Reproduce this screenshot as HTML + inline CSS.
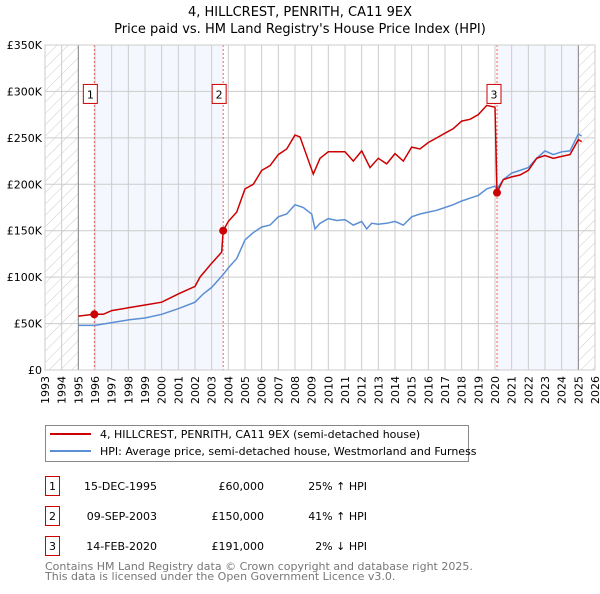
<!DOCTYPE html>
<html><head><meta charset="utf-8">
<style>
body{margin:0;background:#fff;font-family:"DejaVu Sans","Liberation Sans",sans-serif;}
svg text{font-family:"DejaVu Sans","Liberation Sans",sans-serif;}
</style></head>
<body>
<svg id="chart" width="600" height="590" xmlns="http://www.w3.org/2000/svg">
<defs>
<pattern id="hatch" patternUnits="userSpaceOnUse" width="8" height="8" patternTransform="rotate(45)">
<line x1="0" y1="0" x2="0" y2="8" stroke="#ccc" stroke-width="1"/>
</pattern>
</defs>
<text x="300" y="16" text-anchor="middle" font-size="13">4, HILLCREST, PENRITH, CA11 9EX</text>
<text x="300" y="33" text-anchor="middle" font-size="13">Price paid vs. HM Land Registry's House Price Index (HPI)</text>
<g id="plot"></g>
<g>
<rect x="45.5" y="425.5" width="423" height="36" fill="#fff" stroke="#888"/>
<line x1="50" y1="434" x2="91" y2="434" stroke="#cc0000" stroke-width="2"/>
<text x="100" y="438" font-size="11">4, HILLCREST, PENRITH, CA11 9EX (semi-detached house)</text>
<line x1="50" y1="451" x2="91" y2="451" stroke="#5b8fd4" stroke-width="2"/>
<text x="100" y="455" font-size="11">HPI: Average price, semi-detached house, Westmorland and Furness</text>
</g>
<g font-size="11">
<rect x="45.5" y="476.5" width="14" height="19" fill="#fff" stroke="#cc0000"/><text x="52.5" y="490" text-anchor="middle">1</text>
<text x="157" y="490" text-anchor="end">15-DEC-1995</text><text x="264" y="490" text-anchor="end">£60,000</text><text x="367" y="490" text-anchor="end">25% ↑ HPI</text>
<rect x="45.5" y="506.5" width="14" height="19" fill="#fff" stroke="#cc0000"/><text x="52.5" y="520" text-anchor="middle">2</text>
<text x="157" y="520" text-anchor="end">09-SEP-2003</text><text x="264" y="520" text-anchor="end">£150,000</text><text x="367" y="520" text-anchor="end">41% ↑ HPI</text>
<rect x="45.5" y="536.5" width="14" height="19" fill="#fff" stroke="#cc0000"/><text x="52.5" y="550" text-anchor="middle">3</text>
<text x="157" y="550" text-anchor="end">14-FEB-2020</text><text x="264" y="550" text-anchor="end">£191,000</text><text x="367" y="550" text-anchor="end">2% ↓ HPI</text>
</g>
<text x="45" y="570" font-size="11" fill="#777">Contains HM Land Registry data © Crown copyright and database right 2025.</text>
<text x="45" y="580" font-size="11" fill="#777">This data is licensed under the Open Government Licence v3.0.</text>
</svg>
<script>
const yTicks=[0,50,100,150,200,250,300,350];
const yTickLabels=["£0","£50K","£100K","£150K","£200K","£250K","£300K","£350K"];
const years=[1993,1994,1995,1996,1997,1998,1999,2000,2001,2002,2003,2004,2005,2006,2007,2008,2009,2010,2011,2012,2013,2014,2015,2016,2017,2018,2019,2020,2021,2022,2023,2024,2025,2026];
const hpiT=[1995,1996,1997,1998,1999,2000,2001,2002,2002.5,2003,2003.7,2004,2004.5,2005,2005.5,2006,2006.5,2007,2007.5,2008,2008.5,2009,2009.2,2009.5,2010,2010.5,2011,2011.5,2012,2012.3,2012.6,2013,2013.5,2014,2014.5,2015,2015.5,2016,2016.5,2017,2017.5,2018,2018.5,2019,2019.5,2020,2020.12,2020.5,2021,2021.5,2022,2022.5,2023,2023.5,2024,2024.5,2025,2025.2];
const hpiV=[48,48,51,54,56,60,66,73,82,89,103,110,120,140,148,154,156,165,168,178,175,168,152,158,163,161,162,156,160,152,158,157,158,160,156,165,168,170,172,175,178,182,185,188,195,198,195,205,212,215,218,228,236,232,235,236,254,252];
const priceT=[1995,1995.96,1996.5,1997,1998,1999,2000,2001,2002,2002.3,2003,2003.6,2003.69,2004,2004.5,2005,2005.5,2006,2006.5,2007,2007.5,2008,2008.3,2009.1,2009.5,2010,2011,2011.5,2012,2012.5,2013,2013.5,2014,2014.5,2015,2015.5,2016,2016.5,2017,2017.5,2018,2018.5,2019,2019.5,2020,2020.12,2020.5,2021,2021.5,2022,2022.5,2023,2023.5,2024,2024.5,2025,2025.2];
const priceV=[58,60,60,64,67,70,73,82,90,100,115,127,150,160,170,195,200,215,220,232,238,253,251,211,228,235,235,225,236,218,228,222,233,225,240,238,245,250,255,260,268,270,275,285,283,191,205,208,210,215,228,231,228,230,232,248,246];
const saleT=[1995.96,2003.69,2020.12];
const saleV=[60,150,191];
const saleLabels=["1","2","3"];

const L=45,R=595,T=45,B=370;
const x=t=>L+(t-1993)/(2026-1993)*(R-L);
const y=v=>B-v/350*(B-T);
const NS="http://www.w3.org/2000/svg";
const g=document.getElementById('plot');
function mk(tag,attrs){const e=document.createElementNS(NS,tag);for(const k in attrs)e.setAttribute(k,attrs[k]);g.appendChild(e);return e;}

let e=mk('rect',{x:x(saleT[0]),y:T,width:x(saleT[1])-x(saleT[0]),height:B-T,fill:'#f4f7fd'});


e=mk('rect',{x:x(saleT[2]),y:T,width:x(2025)-x(saleT[2]),height:B-T,fill:'#f4f7fd'});


e=mk('rect',{x:L,y:T,width:x(1995)-L,height:B-T,fill:'url(#hatch)'});


e=mk('rect',{x:x(2025),y:T,width:R-x(2025),height:B-T,fill:'url(#hatch)'});



years.forEach(yr=>{
 const l=mk('line',{x1:x(yr),x2:x(yr),y1:T,y2:B,stroke:'#ccc','stroke-width':1});
 
 
 const t=mk('text',{x:0,y:0,'font-size':11,'text-anchor':'end',transform:`translate(${x(yr)+4},${B+6}) rotate(-90)`});
 t.textContent=yr;
 
 
});
yTicks.forEach((v,i)=>{
 const l=mk('line',{x1:L,x2:R,y1:y(v),y2:y(v),stroke:'#ccc','stroke-width':1});
 
 
 const t=mk('text',{x:L-3,y:y(v)+4,'font-size':11,'text-anchor':'end'});
 t.textContent=yTickLabels[i];
 
 
});
e=mk('line',{x1:x(1995),x2:x(1995),y1:T,y2:B,stroke:'#888'});


e=mk('line',{x1:x(2025),x2:x(2025),y1:T,y2:B,stroke:'#888'});


saleT.forEach(t=>{
 const l=mk('line',{x1:x(t),x2:x(t),y1:T,y2:B,stroke:'#f06060','stroke-dasharray':'2,2'});
 
 
});
e=mk('path',{d:hpiT.map((t,i)=>(i?'L':'M')+x(t).toFixed(1)+','+y(hpiV[i]).toFixed(1)).join(''),fill:'none',stroke:'#5b8fd4','stroke-width':1.5});


e=mk('path',{d:priceT.map((t,i)=>(i?'L':'M')+x(t).toFixed(1)+','+y(priceV[i]).toFixed(1)).join(''),fill:'none',stroke:'#cc0000','stroke-width':1.5});


saleT.forEach((t,i)=>{
 const c=mk('circle',{cx:x(t),cy:y(saleV[i]),r:4,fill:'#cc0000'});
 
 
 const bx=x(t)-7-(i==2?3:4);
 const r=mk('rect',{x:bx,y:y(300)-7,width:14,height:19,fill:'#fff',stroke:'#cc0000'});
 
 
 const tx=mk('text',{x:bx+7,y:y(300)+7,'font-size':11,'text-anchor':'middle'});
 tx.textContent=saleLabels[i];
 
 
});
e=mk('rect',{x:L,y:T,width:R-L,height:B-T,fill:'none',stroke:'#ccc'});


</script>
</body></html>
